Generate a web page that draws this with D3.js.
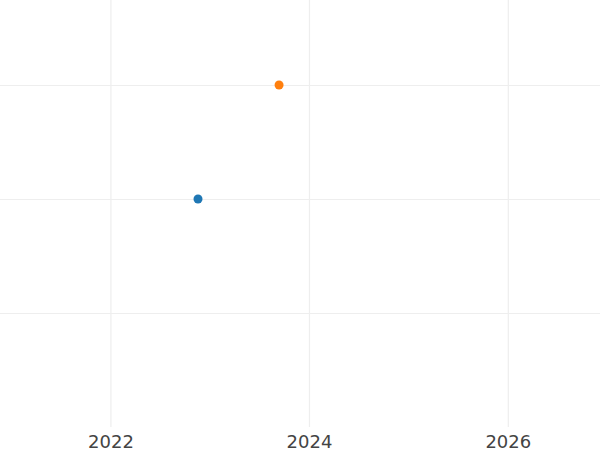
<!DOCTYPE html>
<html>
<head>
<meta charset="utf-8">
<script src="https://cdn.jsdelivr.net/npm/d3@7"></script>
<style>
  body { margin: 0; background: #fff; }
  .tick text { font-family: "DejaVu Sans", sans-serif; font-size: 18px; fill: #444; }
</style>
</head>
<body>
<main></main>
<script>
// series: one point each
const seriesNames = ["A", "B"];
const seriesDates = ["2022-11-19", "2023-09-13"];
const seriesValues = [1, 2];
const colors = ["#1f77b4", "#ff7f0e"];
const xTicks = ["2022-01-01", "2024-01-01", "2026-01-01"];
const yTicks = [0, 1, 2];

const width = 600, height = 450, plotBottom = 427;

const parse = d3.timeParse("%Y-%m-%d");
const data = seriesNames.map((n, i) => ({name: n, date: parse(seriesDates[i]), value: seriesValues[i], color: colors[i]}));

const x = d3.scaleTime()
    .domain([parse("2020-11-21"), parse("2026-12-06")])
    .range([0, width]);

const y = d3.scaleLinear()
    .domain([-1, 2.746])
    .range([plotBottom, 0]);

const svg = d3.select("main").append("svg")
    .attr("width", width)
    .attr("height", height);

// horizontal grid
svg.append("g")
    .selectAll("line")
    .data(yTicks)
  .enter().append("line")
    .attr("x1", 0)
    .attr("x2", width)
    .attr("y1", d => Math.round(y(d)) + 0.5)
    .attr("y2", d => Math.round(y(d)) + 0.5)
    .style("stroke", "#eee");

// x axis with grid lines
const xAxis = svg.append("g")
    .attr("transform", `translate(0, ${plotBottom})`)
    .call(d3.axisBottom(x)
      .tickValues(xTicks.map(parse))
      .tickFormat(d3.timeFormat("%Y"))
      .tickSize(-plotBottom)
      .tickPadding(0));

xAxis.select(".domain").remove();
xAxis.selectAll(".tick line").style("stroke", "#eee").style("stroke-width", 1.2);
xAxis.selectAll(".tick text")
    .attr("y", 20.5)
    .attr("dy", null);

// points
svg.selectAll(".dot")
    .data(data)
  .enter().append("circle")
    .attr("class", "dot")
    .attr("r", 4.5)
    .attr("cx", d => x(d.date))
    .attr("cy", d => y(d.value))
    .style("fill", d => d.color);
</script>
</body>
</html>
